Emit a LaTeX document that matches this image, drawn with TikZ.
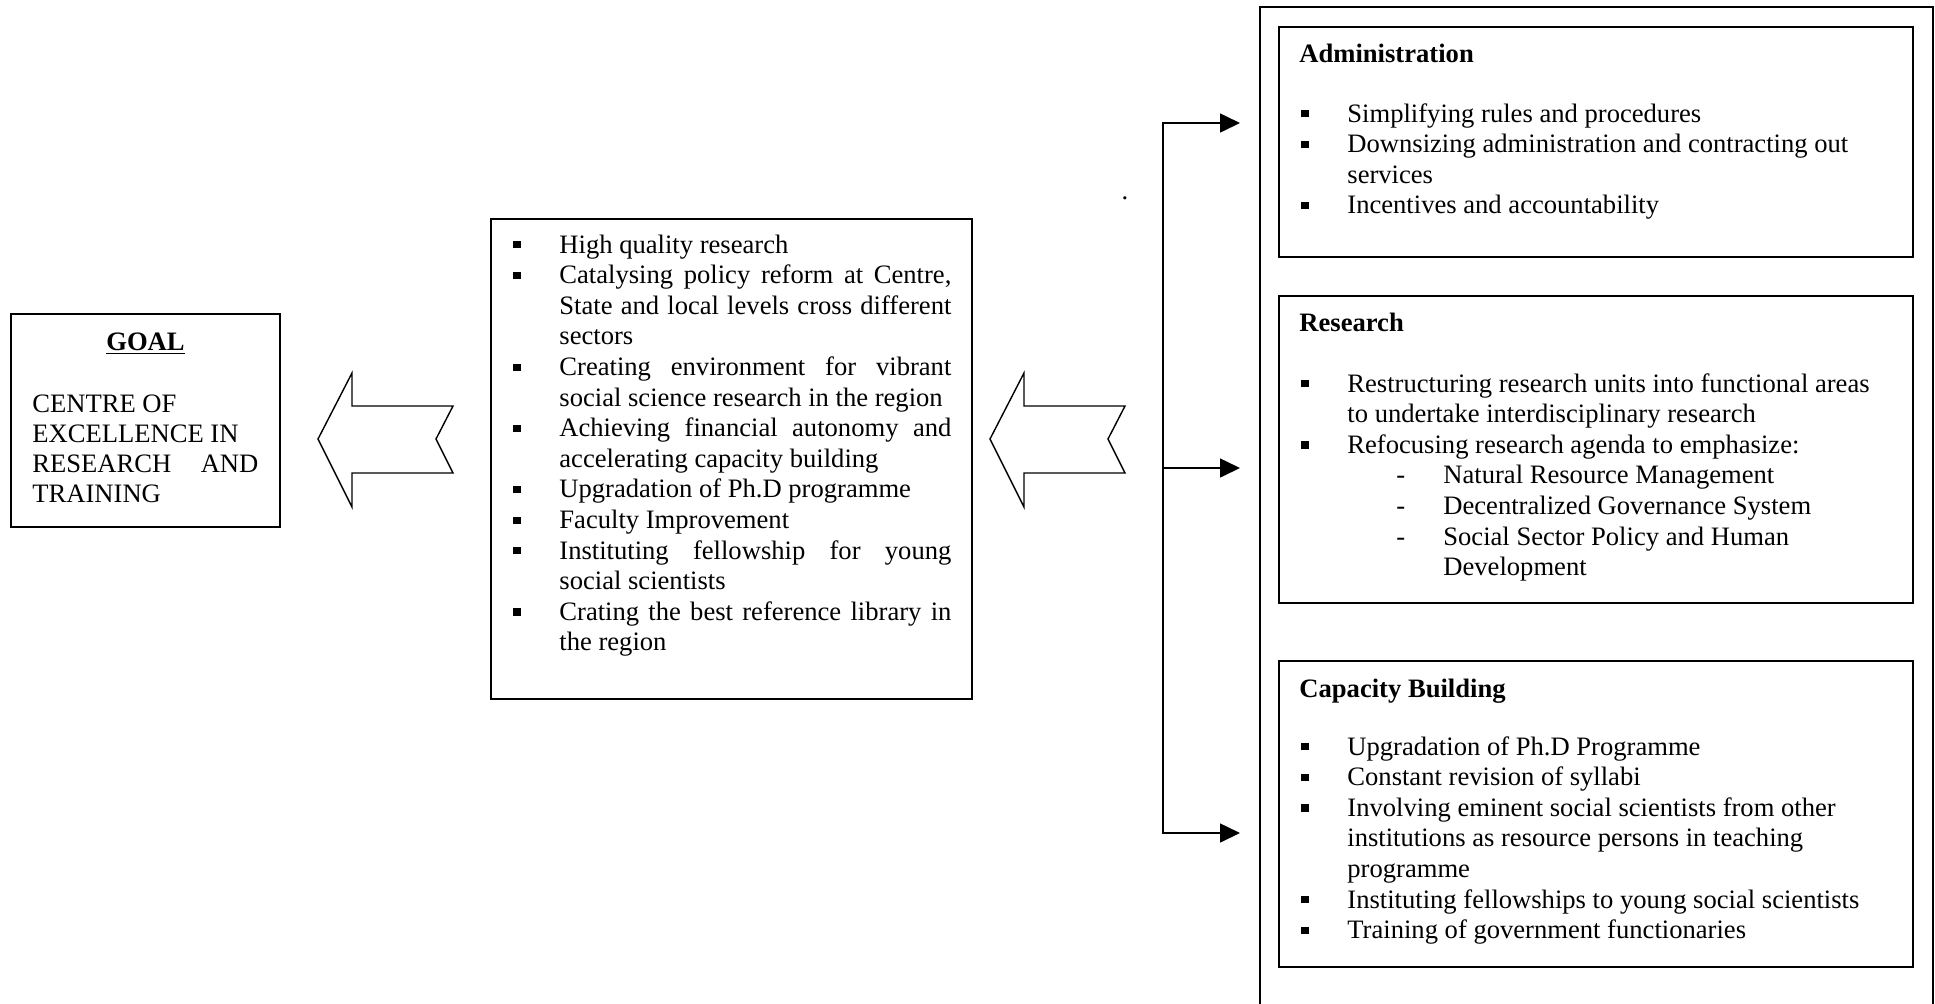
\documentclass[tikz,border=0pt]{standalone}
\usepackage{fontspec}
\setmainfont{Liberation Serif}
\usetikzlibrary{arrows.meta}
\newcommand{\fsz}{\fontsize{13.3pt}{15.3pt}\selectfont}
\newcommand{\fszg}{\fontsize{13.3pt}{15pt}\selectfont}
\newcommand{\bul}{\makebox[23pt][l]{\rule[2.3pt]{3.6pt}{3.6pt}}}
\newcommand{\ind}{\hspace*{23pt}}
\newcommand{\jl}[1]{\makebox[196pt][s]{#1}}
\newcommand{\subi}{\makebox[71pt][l]{\hspace*{47.5pt}-}}
\begin{document}
\begin{tikzpicture}[x=0.5pt,y=-0.5pt,
  box/.style={draw, line width=0.6pt, inner sep=0pt},
  blockarrow/.style={draw, line width=0.7pt, line join=miter},
  conn/.style={line width=0.8pt},
  arr/.style={conn, -{Triangle[length=10pt,width=9.5pt]}},
  txt/.style={inner sep=0pt, anchor=base west, font=\fsz},
  hdr/.style={txt, font=\fsz\bfseries}]
\useasboundingbox (0,0) rectangle (1935,1003);

% boxes
\node[box, minimum width=134.5pt, minimum height=106.5pt] (goal) at (145.5,420.5) {};
\node[box, minimum width=240.5pt, minimum height=240pt] (mid) at (731.5,459) {};
\node[box, minimum width=336.5pt, minimum height=505pt] (outer) at (1596.5,512) {};
\node[box, minimum width=317pt, minimum height=115pt] (admin) at (1596,142) {};
\node[box, minimum width=317pt, minimum height=153.5pt] (res) at (1596,449.5) {};
\node[box, minimum width=317pt, minimum height=153pt] (cap) at (1596,814) {};

% goal text
\node[hdr, anchor=base] (goalhdr) at (145.5,350) {\underline{GOAL}};
\node[txt] (goaltxt) at (32,412) {\parbox[t]{113pt}{\fszg\raggedright
CENTRE OF\\
EXCELLENCE IN\\
\makebox[113pt][s]{RESEARCH AND}\\
TRAINING}};

% middle text
\node[txt] (midtxt) at (513,253) {\parbox[t]{225pt}{\fsz\raggedright
\bul High quality research\\
\bul\jl{Catalysing policy reform at Centre,}\\
\ind\jl{State and local levels cross different}\\
\ind sectors\\
\bul\jl{Creating environment for vibrant}\\
\ind social science research in the region\\
\bul\jl{Achieving financial autonomy and}\\
\ind accelerating capacity building\\
\bul Upgradation of Ph.D programme\\
\bul Faculty Improvement\\
\bul\jl{Instituting fellowship for young}\\
\ind social scientists\\
\bul\jl{Crating the best reference library in}\\
\ind the region}};

% administration
\node[hdr] (adminhdr) at (1299,62) {Administration};
\node[txt] (admintxt) at (1301,122) {\parbox[t]{310pt}{\fsz\raggedright
\bul Simplifying rules and procedures\\
\bul Downsizing administration and contracting out\\
\ind services\\
\bul Incentives and accountability}};

% research
\node[hdr] (reshdr) at (1299,331) {Research};
\node[txt] (restxt) at (1301,392) {\parbox[t]{310pt}{\fsz\raggedright
\bul Restructuring research units into functional areas\\
\ind to undertake interdisciplinary research\\
\bul Refocusing research agenda to emphasize:\\
\subi Natural Resource Management\\
\subi Decentralized Governance System\\
\subi Social Sector Policy and Human\\
\hspace*{71pt}Development}};

% capacity building
\node[hdr] (caphdr) at (1299,697) {Capacity Building};
\node[txt] (captxt) at (1301,755) {\parbox[t]{310pt}{\fsz\raggedright
\bul Upgradation of Ph.D Programme\\
\bul Constant revision of syllabi\\
\bul Involving eminent social scientists from other\\
\ind institutions as resource persons in teaching\\
\ind programme\\
\bul Instituting fellowships to young social scientists\\
\bul Training of government functionaries}};

% stray dot
\node[inner sep=0pt, font=\fsz] (dot) at (1125,198) {.};

% block arrows
\draw[blockarrow] (318,439) -- (352,373) -- (352,406) -- (453,406) -- (436,439)
  -- (453,473) -- (352,473) -- (352,507) -- cycle;
\draw[blockarrow] (990,439) -- (1024,373) -- (1024,406) -- (1125,406) -- (1108,439)
  -- (1125,473) -- (1024,473) -- (1024,507) -- cycle;

% connectors
\coordinate (vt) at (1163,123);
\coordinate (vm) at (1163,468);
\coordinate (vb) at (1163,833);
\coordinate (t1) at (1240,123);
\coordinate (t2) at (1240,468);
\coordinate (t3) at (1240,833);
\draw[arr] (vb) -- (vt) -- (t1);
\draw[arr] (vt) -- (vb) -- (t3);
\draw[arr] (vm) -- (t2);
\end{tikzpicture}
\end{document}
